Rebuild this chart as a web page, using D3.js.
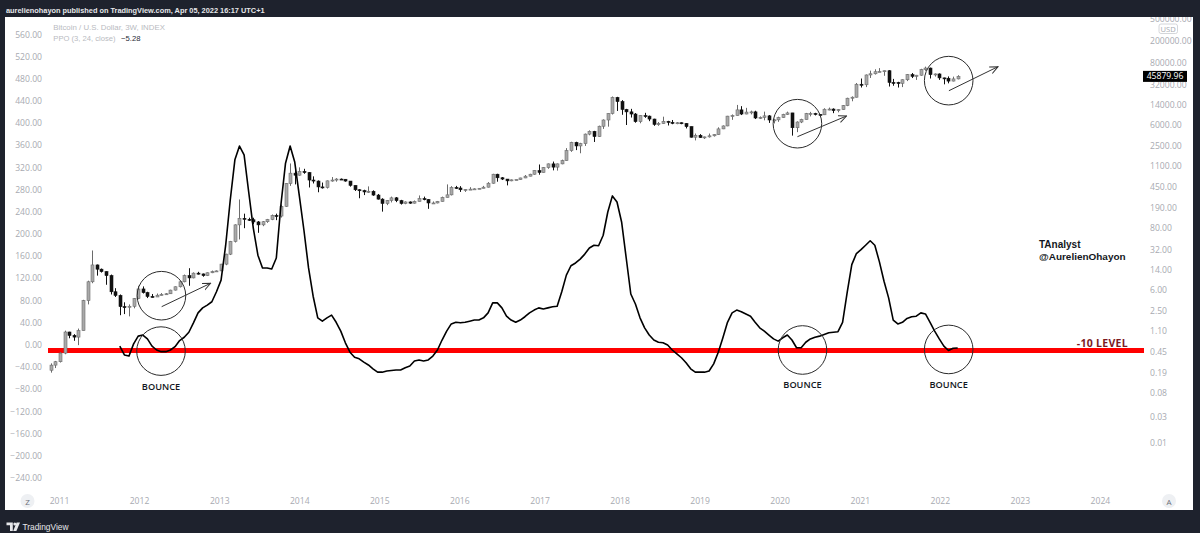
<!DOCTYPE html>
<html><head><meta charset="utf-8">
<script src="https://cdn.jsdelivr.net/npm/d3@7"></script>
<style>html,body{margin:0;padding:0;background:#1e222d;}svg{display:block}</style>
</head><body>
<svg id="c" width="1200" height="533"></svg>
<script>
// ---------------- DATA ----------------
const startDate = "2010-11-22";   // first visible 3W bar
const barDays = 21;
const firstOpen = 0.21;
const closes = [0.26,0.30,0.43,1.04,0.90,0.84,1.10,3.86,8.5,17.2,14.4,13.0,11.0,5.6,4.8,3.0,2.95,3.05,4.2,6.3,
5.4,4.6,4.5,4.85,5.0,5.15,6.0,6.9,8.5,11.0,10.0,12.2,11.8,11.0,12.4,13.0,13.4,17.8,27,46,
92,121,116,114,104,92,105,115,136,133,200,520,800,735,860,820,600,575,450,440,
580,600,625,620,575,480,400,385,365,375,320,270,225,255,285,253,225,240,228,245,
275,265,230,230,245,290,323,440,430,400,405,410,415,425,445,525,765,660,625,580,
605,610,655,705,765,890,825,1010,1180,1030,1180,1350,2050,2900,2500,2750,4100,4600,3700,5700,
7400,9700,19000,16000,11500,10400,9500,6900,8900,8700,7700,6150,6350,7000,6700,6500,6600,6400,5600,3600,
3900,3550,3650,3820,4000,5100,5770,8700,8900,11300,9500,10300,10400,8050,8250,8800,7400,7450,8180,9350,
9950,5360,6800,7550,9650,9700,9350,9200,11600,11700,10950,11400,13500,18400,19200,33000,32300,48700,51200,55800,
56200,58200,35600,35500,34300,39900,49300,46000,48200,61000,65000,49400,50800,43100,42400,37700,41300,45879.96];
const highs = [0.28,0.31,0.45,1.10,1.05,0.95,1.20,4.0,8.9,31.5,17.5,14.8,13.2,11.5,6.5,5.0,3.6,3.3,4.3,7.2,
7.0,5.6,5.1,5.2,5.3,5.3,6.1,7.0,8.7,11.5,15.0,12.6,12.9,12.0,12.6,13.6,13.7,18,27.5,47,
94,266,147,124,124,108,108,118,142,147,215,530,1200,1000,1020,960,840,700,590,540,
590,680,650,640,600,520,480,410,400,460,390,335,280,260,300,295,262,246,245,255,
315,300,270,245,250,300,500,465,470,465,410,445,425,430,470,550,780,780,680,625,
615,615,660,740,780,900,1150,1030,1200,1300,1200,1410,2280,2980,2980,2850,4200,4800,4700,5850,
7600,9800,19800,19500,17000,11800,11800,9900,9000,9990,8900,7800,6800,8500,7150,7400,6800,6700,6500,5650,
4200,4100,3700,4200,4080,5450,5900,8800,9350,13900,13200,12300,10950,10900,8600,10500,9100,7800,8500,9600,
10500,9950,7000,7800,9950,10400,10000,9400,12100,12450,12050,11700,13850,18800,19900,34800,41950,49700,58350,61800,
64900,58600,59600,41300,36600,40500,50500,52900,48800,63000,69000,66300,51900,52000,43500,45800,45400,48200];
const lows = [0.19,0.23,0.29,0.41,0.80,0.72,0.60,1.10,3.3,8.0,11,12.5,7.5,5.0,4.5,2.1,2.2,2.0,2.8,4.1,
5.2,4.3,4.4,4.5,4.8,4.9,5.1,5.9,6.7,8.3,7.2,9.8,11.5,10.5,10.8,12.2,12.9,13.3,17,26,
44,50,80,108,95,66,87,100,112,112,125,195,470,500,720,780,440,520,360,420,
420,560,560,605,560,455,380,280,320,350,310,265,160,210,235,238,215,218,222,224,
250,257,180,225,226,244,290,315,415,365,365,400,405,410,425,440,515,560,600,480,
570,595,605,650,700,750,750,820,960,900,890,1160,1340,1950,2100,1840,2500,3900,2950,3650,
5100,5600,9300,10800,9200,6000,8200,6600,6450,8100,7050,5800,5800,6300,5880,6200,6200,6200,5200,3550,
3150,3500,3350,3550,3700,3950,5050,5700,7450,8900,9100,9400,9350,7700,7700,7300,6550,6400,6850,8100,
9150,3850,4450,6500,7600,8600,8950,8900,9100,11100,9850,10200,11300,13200,16200,19000,28800,29300,43000,49500,
55100,47000,30000,31000,28800,29300,37700,42800,39600,47100,57800,42000,45500,39600,32900,34300,37200,40500];
const ppoStart = 15;   // first bar with a PPO value
const ppoValues = [-2,-18,-20,2,16,18,11,-2,-9,-12,-12,-9,-3,8,14,23,40,58,67,72,
78,96,117,180,262,334,359,343,276,211,162,139,139,137,157,253,328,359,330,269,
207,139,88,49,43,49,54,41,25,4,-13,-22,-25,-31,-36,-43,-49,-49,-47,-46,
-45,-45,-41,-38,-29,-27,-29,-27,-20,-9,9,25,38,41,40,41,43,45,45,49,
58,76,76,67,52,45,41,45,51,58,63,67,65,67,69,70,96,126,143,148,
155,164,175,180,179,198,240,269,258,222,157,92,74,49,31,18,9,5,4,0,
-9,-16,-23,-32,-43,-49,-49,-49,-47,-34,-13,13,41,58,63,60,56,52,41,31,
25,18,11,7,13,18,9,-5,-5,5,11,14,16,19,22,23,24,41,95,145,
165,172,180,188,180,150,115,85,45,38,41,48,51,52,58,56,41,25,11,-2,
-10,-6,-5.28];
const ppoTicks = [560,520,480,440,400,360,320,280,240,200,160,120,80,40,0,-40,-80,-120,-160,-200,-240];
const priceTicks = [500000,200000,80000,32000,14000,6000,2500,1100,450,190,80,32,14,6,2.5,1.1,0.45,0.19,0.08,0.03,0.01];
const yearTicks = [2011,2012,2013,2014,2015,2016,2017,2018,2019,2020,2021,2022,2023,2024];
const lastPrice = 45879.96;
const ppoLast = -5.28;
const levelValue = -10;
const headerText = "aurelienohayon published on TradingView.com, Apr 05, 2022 16:17 UTC+1";
const legendTitle = "Bitcoin / U.S. Dollar, 3W, INDEX";
const legendPPO = "PPO (3, 24, close)";
// annotations (data coordinates)
const priceCircles = [{d:"2012-04-10",v:4.75},{d:"2020-03-20",v:6340},{d:"2022-02-08",v:38400}];
const ppoCircles = [{d:"2012-04-08",v:-11},{d:"2020-04-12",v:-9},{d:"2022-02-08",v:-8}];
const arrows = [{d0:"2012-04-11",v0:3.0,d1:"2012-11-20",v1:7.98},
                {d0:"2020-03-20",v0:3680,d1:"2020-10-30",v1:8750},
                {d0:"2022-02-09",v0:25200,d1:"2022-09-21",v1:68900}];

// ---------------- LAYOUT ----------------
const W=1200,H=533;
const panel={x0:5,x1:1193,y0:17,y1:510};
const plot={x0:48,x1:1144,y0:17,y1:490};
const FONT="'Open Sans', 'Liberation Sans', sans-serif";
const NFONT="'Liberation Sans', Arial, sans-serif";
const svg=d3.select("#c");
const parse=d3.utcParse("%Y-%m-%d");

const x=d3.scaleUtc().domain([Date.UTC(2011,0,1),Date.UTC(2024,0,1)]).range([59.5,1100.4]);
const yP=d3.scaleLog().domain([0.01,500000]).range([443,19.3]);
const yO=d3.scaleLinear().domain([0,560]).range([345,34.6]);

svg.append("rect").attr("width",W).attr("height",H).attr("fill","#1e222d");
svg.append("rect").attr("x",panel.x0).attr("y",panel.y0).attr("width",panel.x1-panel.x0).attr("height",panel.y1-panel.y0).attr("fill","#ffffff");

const defs=svg.append("defs");
defs.append("clipPath").attr("id","plotclip").append("rect")
  .attr("x",plot.x0).attr("y",plot.y0).attr("width",plot.x1-plot.x0).attr("height",plot.y1-plot.y0);
defs.append("clipPath").attr("id","panelclip").append("rect")
  .attr("x",panel.x0).attr("y",panel.y0).attr("width",panel.x1-panel.x0).attr("height",panel.y1-panel.y0);
defs.append("marker").attr("id","arr").attr("viewBox","0 0 10 10").attr("refX",9).attr("refY",5)
  .attr("markerWidth",9).attr("markerHeight",9).attr("markerUnits","userSpaceOnUse").attr("orient","auto")
  .append("path").attr("d","M0,1 L9,5 L0,9").attr("fill","none").attr("stroke","#333").attr("stroke-width",1.1);

function fit(sel,w){const L=sel.node().getComputedTextLength();const fs=parseFloat(sel.attr("font-size"));sel.attr("font-size",fs*w/L);return sel;}

// header
fit(svg.append("text").attr("x",6).attr("y",10).attr("dominant-baseline","central")
  .attr("font-family",NFONT).attr("font-size",11).attr("font-weight",700).attr("fill","#e6e7ea").text(headerText),259);

// bottom logo
const logo=svg.append("g").attr("fill","#e6e7ea");
logo.append("path").attr("d","M6.5,522.5 h6.3 v8.5 h-2.8 v-5.8 h-3.5 z");
logo.append("circle").attr("cx",14.8).attr("cy",524).attr("r",1.5);
logo.append("path").attr("d","M16.6,522.5 h3.4 l-3.6,8.5 h-3.2 z");
fit(svg.append("text").attr("x",22.5).attr("y",527).attr("dominant-baseline","central")
  .attr("font-family",NFONT).attr("font-size",11).attr("fill","#e6e7ea").text("TradingView"),46);

// left axis labels (PPO scale)
svg.append("g").selectAll("text").data(ppoTicks).join("text")
  .attr("x",42).attr("y",d=>yO(d)).attr("dominant-baseline","central").attr("text-anchor","end")
  .attr("font-family",FONT).attr("font-size",8.6).attr("fill","#a8aab1").text(d=>d3.format(".2f")(d).replace("-","\u2212"));

// right axis labels (log price scale)
const ly=yP(lastPrice);
svg.append("g").attr("clip-path","url(#panelclip)").selectAll("text").data(priceTicks).join("text")
  .attr("x",1150).attr("y",d=>yP(d)).attr("dominant-baseline","central")
  .attr("font-family",FONT).attr("font-size",8.6).attr("fill","#a8aab1").text(d=>d3.format(".2f")(d));
// USD box
svg.append("rect").attr("x",1159).attr("y",24).attr("width",18.5).attr("height",9.5).attr("rx",2)
  .attr("fill","#fff").attr("stroke","#c9cbd1").attr("stroke-width",0.8);
svg.append("text").attr("x",1168.2).attr("y",29).attr("text-anchor","middle").attr("dominant-baseline","central")
  .attr("font-family",FONT).attr("font-size",7.6).attr("fill","#a8aab1").text("USD");

// time axis
svg.append("g").selectAll("text").data(yearTicks).join("text")
  .attr("x",d=>x(Date.UTC(d,0,1))).attr("y",501).attr("text-anchor","middle").attr("dominant-baseline","central")
  .attr("font-family",FONT).attr("font-size",8.6).attr("fill","#a8aab1").text(d=>d);
[[27.5,"Z"],[1169,"A"]].forEach(([cx,t])=>{
  svg.append("circle").attr("cx",cx).attr("cy",501).attr("r",7).attr("fill","#eef0f3");
  svg.append("text").attr("x",cx).attr("y",501).attr("text-anchor","middle").attr("dominant-baseline","central")
    .attr("font-family",FONT).attr("font-size",8).attr("fill","#6a6d78").text(t);
});

// legend
fit(svg.append("text").attr("x",53.3).attr("y",27.3).attr("dominant-baseline","central")
  .attr("font-family",NFONT).attr("font-size",9).attr("fill","#b9bbc1").text(legendTitle),111.7);
fit(svg.append("text").attr("x",53.3).attr("y",38.3).attr("dominant-baseline","central")
  .attr("font-family",NFONT).attr("font-size",9).attr("fill","#b9bbc1").text(legendPPO),62.5);
fit(svg.append("text").attr("x",121).attr("y",38.3).attr("dominant-baseline","central")
  .attr("font-family",NFONT).attr("font-size",9).attr("fill","#2a2e39").text(d3.format(".2f")(ppoLast).replace("-","\u2212")),19.5);

// ---------------- PLOT ----------------
const gp=svg.append("g").attr("clip-path","url(#plotclip)");
const t0=parse(startDate);
const bars=closes.map((c,i)=>{const o=i?closes[i-1]:firstOpen;return {date:d3.utcDay.offset(t0,i*barDays),o,c,h:Math.max(highs[i],o,c),l:Math.min(lows[i],o,c)};});

// red -10 level
gp.append("line").attr("x1",plot.x0).attr("x2",plot.x1).attr("y1",yO(levelValue)).attr("y2",yO(levelValue))
  .attr("stroke","#ff0000").attr("stroke-width",5);

// candles
const UPF="#a9a9a9",UPS="#6b6b6b",DN="#111111";
const cg=gp.append("g");
cg.selectAll("line").data(bars).join("line")
  .attr("x1",d=>Math.round(x(d.date))+0.5).attr("x2",d=>Math.round(x(d.date))+0.5)
  .attr("y1",d=>yP(d.h)).attr("y2",d=>yP(d.l))
  .attr("stroke",d=>d.c>=d.o?UPS:DN).attr("stroke-width",1);
cg.selectAll("rect").data(bars).join("rect")
  .attr("x",d=>Math.round(x(d.date))-1).attr("width",3)
  .attr("y",d=>yP(Math.max(d.o,d.c)))
  .attr("height",d=>Math.max(1,yP(Math.min(d.o,d.c))-yP(Math.max(d.o,d.c))))
  .attr("fill",d=>d.c>=d.o?UPF:DN).attr("stroke",d=>d.c>=d.o?UPS:DN).attr("stroke-width",0.6);

// PPO line
const ppoData=ppoValues.map((v,k)=>({date:bars[ppoStart+k].date,v}));
gp.append("path").datum(ppoData).attr("fill","none").attr("stroke","#000").attr("stroke-width",1.6)
  .attr("stroke-linejoin","round").attr("d",d3.line().x(d=>x(d.date)).y(d=>yO(d.v)));

// annotations
const ag=gp.append("g").attr("fill","none").attr("stroke","#2b2b2b").attr("stroke-width",1);
ag.selectAll("circle.p").data(priceCircles).join("circle").attr("class","p")
  .attr("cx",d=>x(parse(d.d))).attr("cy",d=>yP(d.v)).attr("r",24.3);
ag.selectAll("circle.o").data(ppoCircles).join("circle").attr("class","o")
  .attr("cx",d=>x(parse(d.d))).attr("cy",d=>yO(d.v)).attr("r",24.3);
ag.selectAll("line").data(arrows).join("line")
  .attr("x1",d=>x(parse(d.d0))).attr("y1",d=>yP(d.v0)).attr("x2",d=>x(parse(d.d1))).attr("y2",d=>yP(d.v1))
  .attr("stroke","#333").attr("marker-end","url(#arr)");
gp.selectAll("text.b").data(ppoCircles).join("text").attr("class","b")
  .attr("x",d=>x(parse(d.d))).attr("y",d=>yO(d.v)+35).attr("text-anchor","middle").attr("dominant-baseline","central")
  .attr("font-family",FONT).attr("font-size",9.6).attr("font-weight",600).attr("fill","#131722").text("BOUNCE")
  .each(function(){fit(d3.select(this),38.3);});

gp.append("text").attr("x",1128).attr("y",yO(levelValue)-8).attr("text-anchor","end").attr("dominant-baseline","central")
  .attr("font-family",FONT).attr("font-size",10.5).attr("font-weight",700).attr("fill","#7d1a1f").attr("letter-spacing",0.3).text("-10 LEVEL");
gp.append("text").attr("x",1039).attr("y",244).attr("dominant-baseline","central").attr("font-family",NFONT)
  .attr("font-size",10).attr("font-weight",700).attr("fill","#131722").text("TAnalyst");
fit(gp.append("text").attr("x",1039).attr("y",256).attr("dominant-baseline","central").attr("font-family",NFONT)
  .attr("font-size",10).attr("font-weight",700).attr("fill","#131722").text("@AurelienOhayon"),86.7);

// last price label
svg.append("rect").attr("x",1143).attr("y",ly-5.5).attr("width",44).attr("height",11).attr("fill","#000");
svg.append("text").attr("x",1165).attr("y",ly).attr("text-anchor","middle").attr("dominant-baseline","central")
  .attr("font-family",FONT).attr("font-size",8.6).attr("fill","#fff").text(d3.format(".2f")(lastPrice));
</script>
</body></html>
